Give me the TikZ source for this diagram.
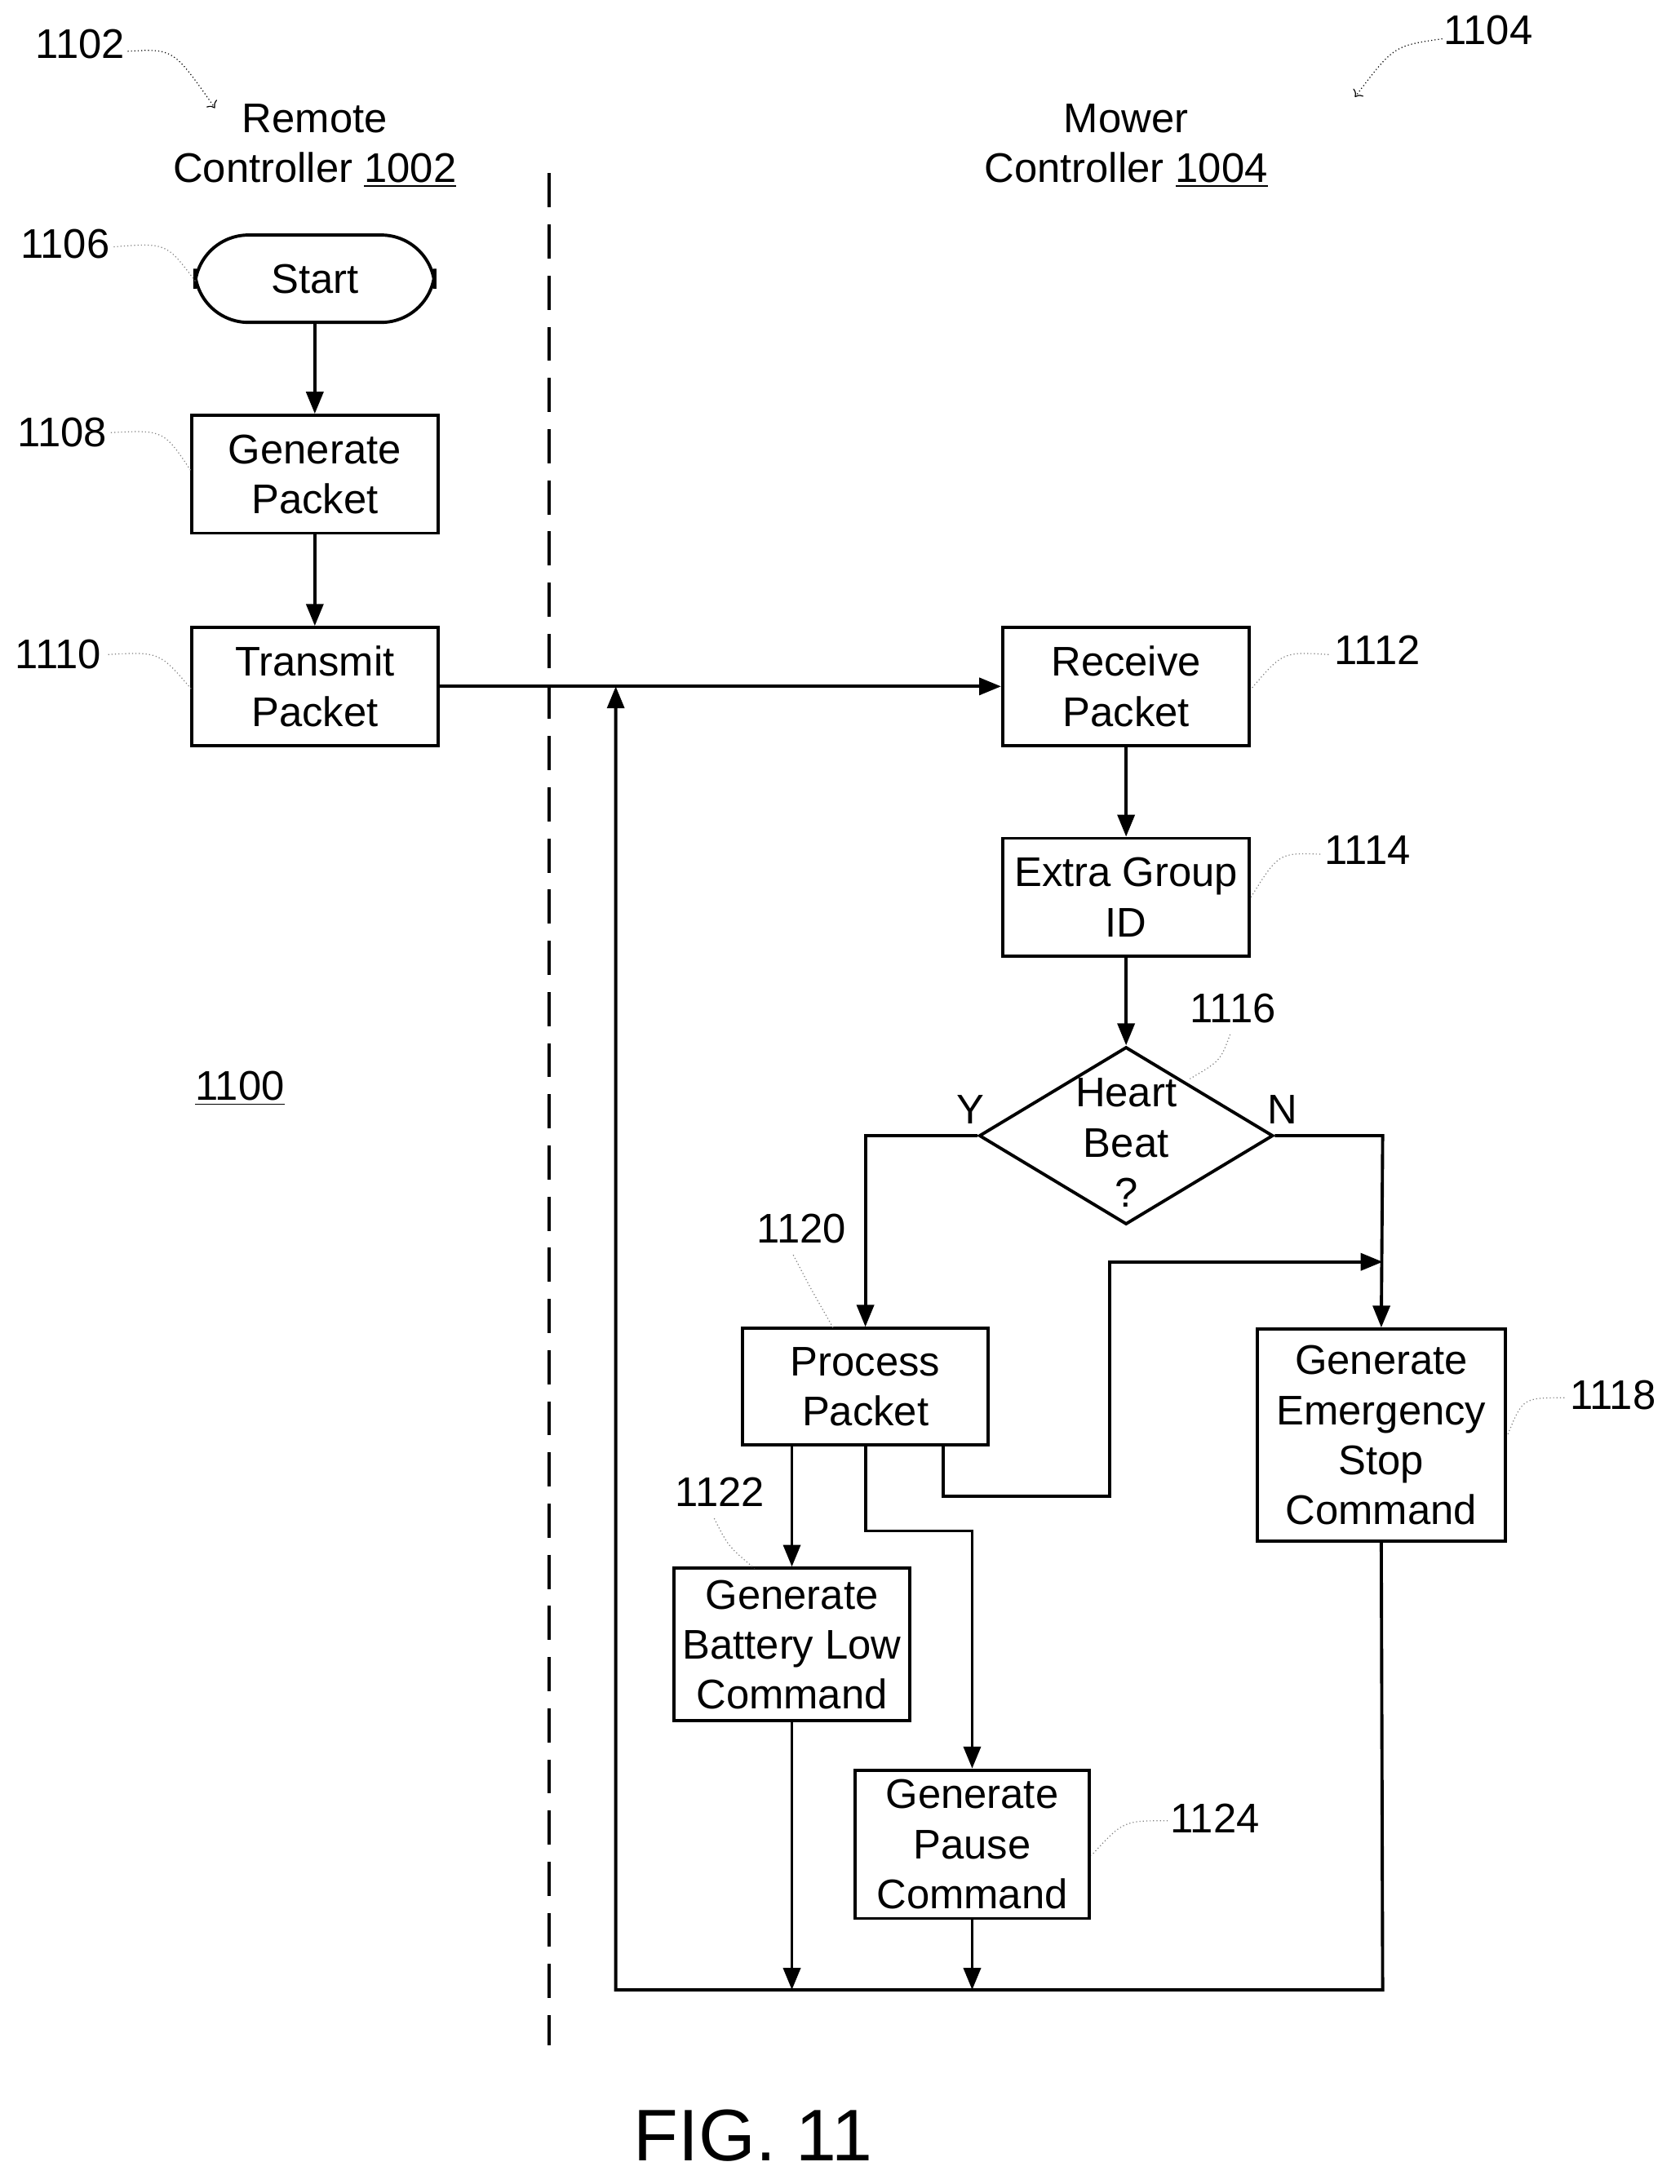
\documentclass[tikz,border=0pt]{standalone}
\usepackage{fontspec}
\setmainfont{Liberation Sans}
\usetikzlibrary{shapes.geometric,arrows.meta}
\begin{document}
\begin{tikzpicture}[x=0.02cm,y=-0.02cm,
  every node/.style={font=\fontsize{17}{20.5}\selectfont},
  box/.style={draw,line width=1.3pt,align=center,inner sep=0pt},
  arr/.style={line width=1.3pt,-{Triangle[length=9pt,width=7pt]}},
  ln/.style={line width=1.3pt},
  lead/.style={gray,densely dotted,thin},
  lbl/.style={inner sep=1pt}]
\useasboundingbox (0,0) rectangle (1211,1575);
\fill[white] (0,0) rectangle (1211,1575);
\node[box,rounded corners=22pt,minimum width=173*0.02cm,minimum height=63*0.02cm] (start) at (227,201) {Start};
\node[box,minimum width=178*0.02cm,minimum height=85*0.02cm] (gen) at (227,342) {Generate\\Packet};
\node[box,minimum width=178*0.02cm,minimum height=85*0.02cm] (tx) at (227,495) {Transmit\\Packet};
\node[box,minimum width=178*0.02cm,minimum height=85*0.02cm] (rx) at (812,495) {Receive\\Packet};
\node[box,minimum width=178*0.02cm,minimum height=85*0.02cm] (ex) at (812,647) {Extra Group\\ID};
\node[draw,line width=1.3pt,diamond,aspect=1.65,minimum width=212*0.02cm,minimum height=128*0.02cm,inner sep=0pt] (hb) at (812,819) {};
\node[align=center] at (812,824) {Heart\\Beat\\?};
\node[box,minimum width=177*0.02cm,minimum height=84*0.02cm] (pp) at (624,1000) {Process\\Packet};
\node[box,minimum width=179*0.02cm,minimum height=153*0.02cm] (es) at (996,1035) {Generate\\Emergency\\Stop\\Command};
\node[box,minimum width=170*0.02cm,minimum height=110*0.02cm] (bl) at (571,1186) {Generate\\Battery Low\\Command};
\node[box,minimum width=169*0.02cm,minimum height=107*0.02cm] (pc) at (701,1330) {Generate\\Pause\\Command};
% dashed divider
\draw[line width=1.6pt,dash pattern=on 14pt off 7pt] (396,125) -- (396,1475);
% headings
\node[align=center] (h1) at (227,105) {Remote\\Controller \underline{1002}};
\node[align=center] (h2) at (812,105) {Mower\\Controller \underline{1004}};
\node (n1100) at (173,785) {\underline{1100}};
\node[font=\fontsize{30}{34}\selectfont] (fig) at (543,1540) {FIG. 11};
% connectors
\draw[arr] (start) -- (gen);
\draw[arr] (gen) -- (tx);
\draw[arr] (tx) -- (rx);
\draw[arr] (rx) -- (ex);
\draw[arr] (ex) -- (hb);
\coordinate (bl0) at (444,1435);
\coordinate (br0) at (997,1435);
\draw[arr] (hb.west) -- (624,819) -- (pp.north);
\draw[arr] (hb.east) -- (997,819) -- (es.north);
\node[lbl] (Y) at (700,800) {Y};
\node[lbl] (N) at (925,800) {N};
\draw[arr] (pp.south -| 571,0) -- (bl.north);
\draw[arr] (pp.south) -- (624,1104) -- (701,1104) -- (pc.north);
\draw[arr] (680,1042) -- (680,1079) -- (800,1079) -- (800,910) -- (997,910);
\draw[arr] (es.south) -- (br0) -- (bl0) -- (444,495);
\draw[arr] (bl.south) -- (571,1435);
\draw[arr] (pc.south) -- (701,1435);
% reference labels
\node (r1102) at (58,32) {1102};
\draw[lead,->,black,thin] (92,37) .. controls (125,35) .. (155,78);
\node (r1104) at (1073,22) {1104};
\draw[lead,->,black,thin] (1040,28) .. controls (1005,33) .. (977,70);
\node (r1106) at (47,176) {1106};
\draw[lead] (82,178) .. controls (120,175) .. (141,203);
\node (r1108) at (45,312) {1108};
\draw[lead] (80,312) .. controls (118,310) .. (138,340);
\node (r1110) at (42,472) {1110};
\draw[lead] (78,472) .. controls (115,470) .. (138,497);
\node (r1112) at (993,469) {1112};
\draw[lead] (958,472) .. controls (925,470) .. (902,497);
\node (r1114) at (986,613) {1114};
\draw[lead] (952,616) .. controls (922,615) .. (902,647);
\node (r1116) at (889,727) {1116};
\draw[lead] (887,746) .. controls (880,765) .. (858,778);
\node (r1120) at (578,886) {1120};
\draw[lead] (572,905) .. controls (585,930) .. (601,958);
\node (r1122) at (519,1076) {1122};
\draw[lead] (515,1095) .. controls (525,1115) .. (544,1131);
\node (r1118) at (1163,1006) {1118};
\draw[lead] (1128,1008) .. controls (1098,1008) .. (1087,1035);
\node (r1124) at (876,1311) {1124};
\draw[lead] (842,1313) .. controls (810,1313) .. (787,1338);
\end{tikzpicture}
\end{document}
